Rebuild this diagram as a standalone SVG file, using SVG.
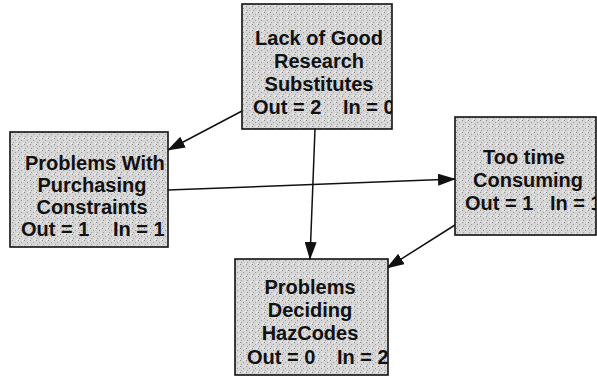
<svg xmlns="http://www.w3.org/2000/svg" width="597" height="381" viewBox="0 0 597 381">
  <style>
    .box { fill: url(#stipple); stroke: #111; stroke-width: 1.6; }
    .lbl { font-family: "Liberation Sans", Arial, Helvetica, sans-serif; font-weight: bold; font-size: 20px; fill: #111; text-anchor: middle; }
    .cnt { font-family: "Liberation Sans", Arial, Helvetica, sans-serif; font-weight: bold; font-size: 20px; fill: #111; }
    .edge { stroke: #111; stroke-width: 1.5; fill: none; marker-end: url(#head); }
  </style>
  <defs>
    <pattern id="stipple" width="6" height="6" patternUnits="userSpaceOnUse">
      <rect width="6" height="6" fill="#d6d6d6"/>
      <rect x="0" y="0" width="1" height="1" fill="#8a8a8a"/>
      <rect x="3" y="2" width="1" height="1" fill="#9a9a9a"/>
      <rect x="1" y="4" width="1" height="1" fill="#a0a0a0"/>
      <rect x="5" y="5" width="1" height="1" fill="#f4f4f4"/>
      <rect x="4" y="0" width="1" height="1" fill="#f0f0f0"/>
    </pattern>
    <marker id="head" markerWidth="18" markerHeight="12" refX="17" refY="6" orient="auto" markerUnits="userSpaceOnUse">
      <path d="M0,0 L18,6 L0,12 Z" fill="#111"/>
    </marker>
    <clipPath id="c1"><rect x="242" y="4" width="150" height="125"/></clipPath>
    <clipPath id="c2"><rect x="10" y="132" width="158" height="115"/></clipPath>
    <clipPath id="c3"><rect x="455" y="117" width="141" height="118"/></clipPath>
    <clipPath id="c4"><rect x="235" y="259" width="153" height="116"/></clipPath>
  </defs>

  <!-- connectors -->
  <g id="edges">
    <line class="edge" x1="242" y1="111" x2="168" y2="150"/>
    <line class="edge" x1="315" y1="129" x2="310" y2="259"/>
    <line class="edge" x1="168" y1="190" x2="455" y2="179"/>
    <line class="edge" x1="455" y1="225" x2="387" y2="268"/>
  </g>

  <g id="lack-of-good-research-substitutes">
    <rect class="box" x="242" y="4" width="150" height="125"/>
    <g clip-path="url(#c1)">
      <text class="lbl" x="319" y="45">Lack of Good</text>
      <text class="lbl" x="319" y="68">Research</text>
      <text class="lbl" x="319" y="91">Substitutes</text>
      <text class="cnt" y="114"><tspan x="253">Out = 2</tspan><tspan x="343">In = 0</tspan></text>
    </g>
  </g>

  <g id="problems-with-purchasing-constraints">
    <rect class="box" x="10" y="132" width="158" height="115"/>
    <g clip-path="url(#c2)">
      <text class="cnt" x="25" y="170">Problems With</text>
      <text class="lbl" x="92" y="192">Purchasing</text>
      <text class="lbl" x="92" y="214">Constraints</text>
      <text class="cnt" y="236"><tspan x="21">Out = 1</tspan><tspan x="113">In = 1</tspan></text>
    </g>
  </g>

  <g id="too-time-consuming">
    <rect class="box" x="455" y="117" width="141" height="118"/>
    <g clip-path="url(#c3)">
      <text class="lbl" x="524" y="164">Too time</text>
      <text class="lbl" x="528" y="187">Consuming</text>
      <text class="cnt" y="210"><tspan x="465">Out = 1</tspan><tspan x="550">In = 1</tspan></text>
    </g>
  </g>

  <g id="problems-deciding-hazcodes">
    <rect class="box" x="235" y="259" width="153" height="116"/>
    <g clip-path="url(#c4)">
      <text class="lbl" x="310" y="294">Problems</text>
      <text class="lbl" x="310" y="317">Deciding</text>
      <text class="lbl" x="310" y="340">HazCodes</text>
      <text class="cnt" y="364"><tspan x="247">Out = 0</tspan><tspan x="337">In = 2</tspan></text>
    </g>
  </g>
</svg>
